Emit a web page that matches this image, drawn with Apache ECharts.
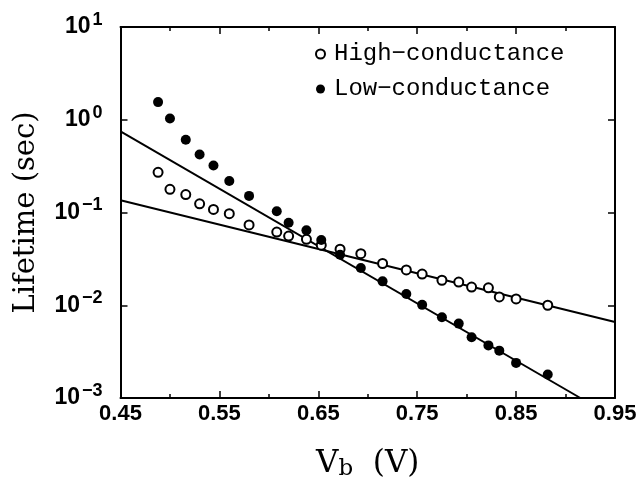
<!DOCTYPE html>
<html>
<head>
<meta charset="utf-8">
<script src="https://cdn.jsdelivr.net/npm/echarts@6/dist/echarts.min.js"></script>
<style>html,body{margin:0;padding:0;background:#fff}#c{width:642px;height:486px}</style>
</head>
<body>
<div id="c"></div>
<script>
// Bias voltages (V)
var vb = [0.488, 0.500, 0.516, 0.530, 0.544, 0.560, 0.580, 0.608, 0.620, 0.638, 0.653, 0.672, 0.693, 0.715, 0.739, 0.755, 0.775, 0.792, 0.805, 0.822, 0.833, 0.850, 0.882];
// Lifetime (sec), high-conductance (open circles)
var highLife = [0.271, 0.178, 0.156, 0.124, 0.108, 0.097, 0.0735, 0.0615, 0.0557, 0.0514, 0.0444, 0.0402, 0.0360, 0.0282, 0.0240, 0.0217, 0.0186, 0.0178, 0.0157, 0.0154, 0.0123, 0.0117, 0.0100];
// Lifetime (sec), low-conductance (filled circles)
var lowLife = [1.55, 1.03, 0.608, 0.422, 0.321, 0.219, 0.151, 0.103, 0.0776, 0.0642, 0.0506, 0.0351, 0.0252, 0.0181, 0.0132, 0.0101, 0.00744, 0.00634, 0.00452, 0.00369, 0.00324, 0.00239, 0.00179];
// Fit lines (endpoints)
var highFitX = [0.45, 0.95];
var highFitY = [0.1355, 0.0066];
var lowFitX = [0.45, 0.915];
var lowFitY = [0.748, 0.001];
var seriesNames = ['High\u2212conductance', 'Low\u2212conductance'];
var xTicks = {min: 0.45, max: 0.95, step: 0.1};
var yTicks = {min: 0.001, max: 10};

function pairs(xs, ys) { return xs.map(function (x, i) { return [x, ys[i]]; }); }

var chart = echarts.init(document.getElementById('c'), null, {renderer: 'canvas'});
var axisLine = {show: true, onZero: false, lineStyle: {color: '#000', width: 2}};
var tickFont = 'Liberation Sans';

chart.setOption({
  backgroundColor: '#fff',
  animation: false,
  grid: {left: 120.5, right: 27, top: 27, bottom: 85},
  legend: {
    orient: 'vertical', left: 310, top: 37, itemGap: 11,
    itemWidth: 9, itemHeight: 9,
    data: seriesNames,
    textStyle: {fontFamily: 'Liberation Mono', fontSize: 24, color: '#000', padding: [0, 0, 0, 4]}
  },
  xAxis: [{
    type: 'value', min: xTicks.min, max: xTicks.max, interval: xTicks.step,
    position: 'bottom',
    axisLine: axisLine,
    axisTick: {show: true, inside: true, length: 7, lineStyle: {color: '#000', width: 1.5}},
    minorTick: {show: true, splitNumber: 2, length: 4, lineStyle: {color: '#000', width: 1.5}},
    splitLine: {show: false},
    axisLabel: {
      margin: 5, color: '#000', fontFamily: tickFont, fontWeight: 'bold', fontSize: 22,
      formatter: function (v) { return v.toFixed(2); }
    },
    name: '{v|V}{s|b}{v|  (V)}', nameLocation: 'middle', nameGap: 48,
    nameTextStyle: {rich: {
      v: {fontFamily: 'DejaVu Serif', fontSize: 31, color: '#000'},
      s: {fontFamily: 'DejaVu Serif', fontSize: 23, color: '#000', verticalAlign: 'bottom', padding: [12, 0, 0, 0]}
    }}
  }, {
    type: 'value', min: xTicks.min, max: xTicks.max, interval: xTicks.step,
    position: 'top',
    axisLine: axisLine,
    axisTick: {show: true, inside: true, length: 7, lineStyle: {color: '#000', width: 1.5}},
    minorTick: {show: true, splitNumber: 2, length: 4, lineStyle: {color: '#000', width: 1.5}},
    splitLine: {show: false},
    axisLabel: {show: false}
  }],
  yAxis: [{
    type: 'log', logBase: 10, min: yTicks.min, max: yTicks.max,
    position: 'left',
    axisLine: axisLine,
    axisTick: {show: true, inside: true, length: 7, lineStyle: {color: '#000', width: 1.5}},
    splitLine: {show: false},
    axisLabel: {
      margin: 18, color: '#000',
      formatter: function (v) {
        var e = Math.round(Math.log10(v));
        return '{b|10}{s|' + (e < 0 ? '\u2212' + (-e) : e) + '}';
      },
      rich: {
        b: {fontFamily: tickFont, fontWeight: 'bold', fontSize: 23, color: '#000'},
        s: {fontFamily: tickFont, fontWeight: 'bold', fontSize: 18, color: '#000', verticalAlign: 'top', padding: [0, 0, 14, 2]}
      }
    },
    name: 'Lifetime (sec)', nameLocation: 'middle', nameGap: 80,
    nameTextStyle: {fontFamily: 'DejaVu Serif', fontSize: 29, color: '#000'}
  }, {
    type: 'log', logBase: 10, min: yTicks.min, max: yTicks.max,
    position: 'right',
    axisLine: axisLine,
    axisTick: {show: true, inside: true, length: 7, lineStyle: {color: '#000', width: 1.5}},
    splitLine: {show: false},
    axisLabel: {show: false}
  }],
  series: [{
    name: 'highFit', type: 'line', data: pairs(highFitX, highFitY),
    showSymbol: false, symbol: 'none', silent: true, z: 1,
    lineStyle: {color: '#000', width: 2}
  }, {
    name: 'lowFit', type: 'line', data: pairs(lowFitX, lowFitY),
    showSymbol: false, symbol: 'none', silent: true, z: 1,
    lineStyle: {color: '#000', width: 2}
  }, {
    name: seriesNames[0], type: 'scatter', data: pairs(vb, highLife),
    symbol: 'circle', symbolSize: 9, z: 3,
    itemStyle: {color: '#fff', borderColor: '#000', borderWidth: 2, opacity: 1}
  }, {
    name: seriesNames[1], type: 'scatter', data: pairs(vb, lowLife),
    symbol: 'circle', symbolSize: 10, z: 4,
    itemStyle: {color: '#000', borderColor: '#000', borderWidth: 0, opacity: 1}
  }]
});
</script>
</body>
</html>
